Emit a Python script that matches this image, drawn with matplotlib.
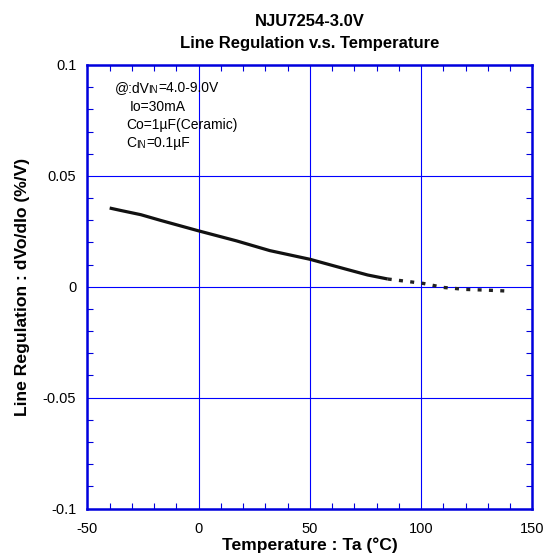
import matplotlib
matplotlib.use('Agg')
import matplotlib.pyplot as plt
from matplotlib.ticker import MultipleLocator

plt.rcParams['font.family'] = ['Liberation Sans', 'DejaVu Sans']

# measured points (solid) and extrapolated part (dotted)
temp = [-40, -35, -26, -17, 0, 17, 32, 50, 66, 76, 85]
reg = [0.0355, 0.0344, 0.0325, 0.0299, 0.0252, 0.0207, 0.0163, 0.0124, 0.0080, 0.0053, 0.0035]
temp_ext = [85, 89, 101, 110, 120, 129, 138]
reg_ext = [0.0035, 0.0030, 0.0015, -0.0003, -0.0012, -0.0015, -0.0019]

xticks = [-50, 0, 50, 100, 150]
xtick_labels = ['-50', '0', '50', '100', '150']
yticks = [-0.1, -0.05, 0, 0.05, 0.1]
ytick_labels = ['-0.1', '-0.05', '0', '0.05', '0.1']

blue = '#0000dd'

fig = plt.figure(figsize=(5.45, 5.56), dpi=100)
ax = fig.add_axes([0.1604, 0.0854, 0.8163, 0.7977])

ax.plot(temp, reg, color='#111111', lw=2.3, solid_capstyle='butt', zorder=3)
ax.plot(temp_ext, reg_ext, color='#222222', lw=2.4, linestyle=(0, (1.2, 2.2)), zorder=3)

ax.set_xlim(-50, 150)
ax.set_ylim(-0.1, 0.1)
ax.set_xticks(xticks)
ax.set_xticklabels(xtick_labels)
ax.set_yticks(yticks)
ax.set_yticklabels(ytick_labels)
ax.xaxis.set_minor_locator(MultipleLocator(10))
ax.yaxis.set_minor_locator(MultipleLocator(0.01))
ax.tick_params(which='both', direction='in', top=True, right=True, color=blue,
               labelsize=10.5, labelcolor='black')
ax.tick_params(axis='x', which='major', pad=10, length=0)
ax.tick_params(axis='y', which='major', pad=8, length=0)
ax.tick_params(which='minor', length=4, width=0.8)
ax.grid(True, which='major', color='#0000ff', lw=0.8)
for s in ax.spines.values():
    s.set_color(blue)
    s.set_linewidth(1.8)

fig.text(0.568, 0.962, 'NJU7254-3.0V', ha='center', va='center', fontsize=12, fontweight='bold')
fig.text(0.568, 0.922, 'Line Regulation v.s. Temperature', ha='center', va='center',
         fontsize=12, fontweight='bold')
ax.set_xlabel('Temperature : Ta (°C)', fontsize=12.6, fontweight='bold', labelpad=1)
ax.set_ylabel('Line Regulation : dVo/dIo (%/V)', fontsize=12.6, fontweight='bold', labelpad=9)

# condition notes
fs = 10
t1 = ax.text(0.062, 0.948, '@:dV', transform=ax.transAxes, fontsize=fs, va='center')
t2 = ax.annotate('IN', xy=(1, 0), xycoords=t1, xytext=(-1, 0), textcoords='offset points',
                 fontsize=7, va='bottom')
ax.annotate('=4.0-9.0V', xy=(1, 0), xycoords=(t2, t1), xytext=(0.3, 0),
            textcoords='offset points', fontsize=fs, va='bottom')
ax.text(0.0958, 0.905, 'Io=30mA', transform=ax.transAxes, fontsize=fs, va='center')
ax.text(0.0868, 0.865, 'Co=1µF(Ceramic)', transform=ax.transAxes, fontsize=fs, va='center')
c1 = ax.text(0.0868, 0.824, 'C', transform=ax.transAxes, fontsize=fs, va='center')
c2 = ax.annotate('IN', xy=(1, 0), xycoords=c1, xytext=(0.3, 0), textcoords='offset points',
                 fontsize=7, va='bottom')
ax.annotate('=0.1µF', xy=(1, 0), xycoords=(c2, c1), xytext=(0.3, 0),
            textcoords='offset points', fontsize=fs, va='bottom')

fig.savefig('out.png', dpi=100)
